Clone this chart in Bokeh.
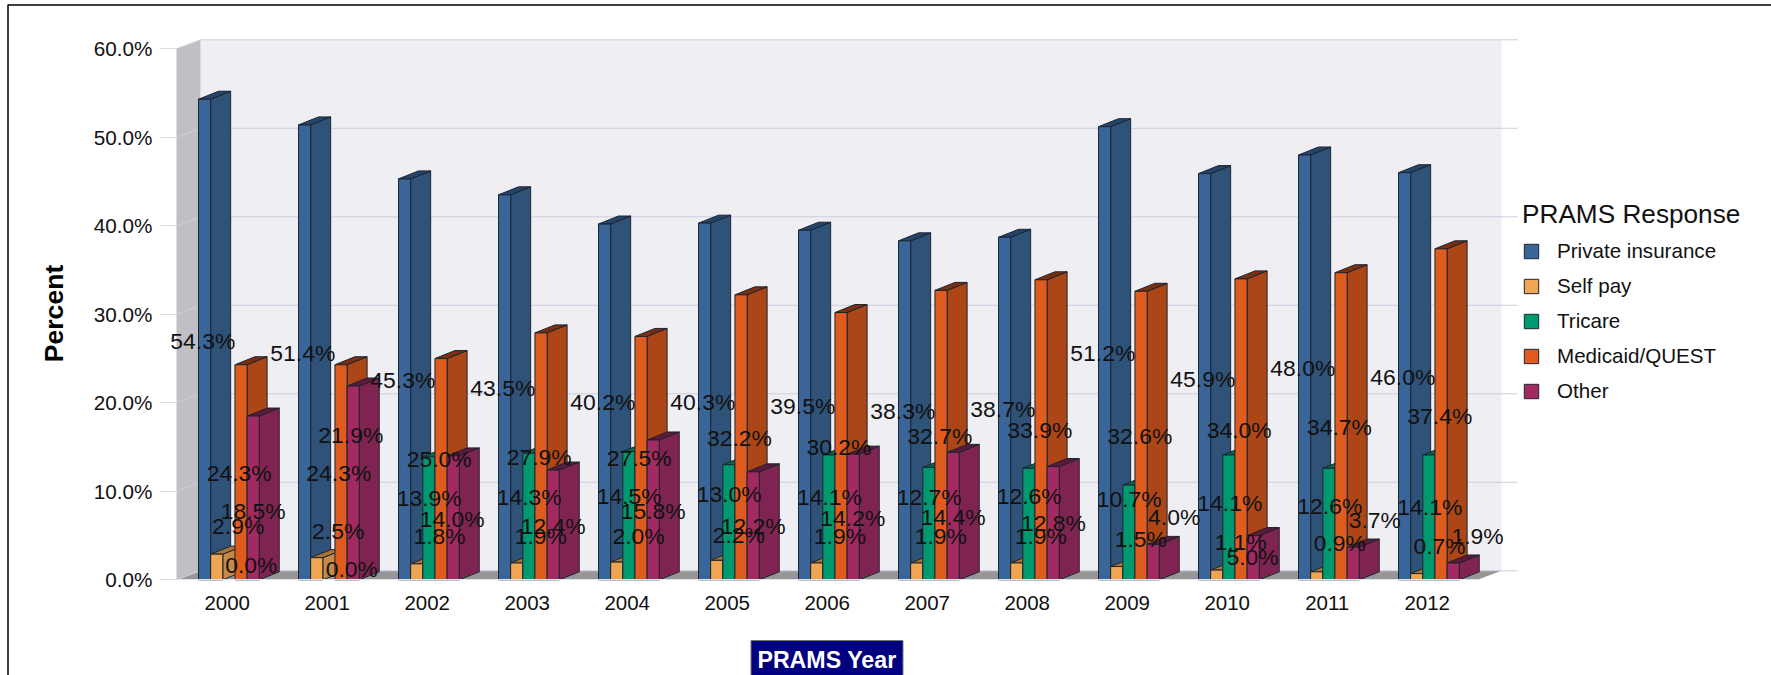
from bokeh.plotting import figure
from bokeh.models import (ColumnDataSource, Range1d, FixedTicker, PrintfTickFormatter, LabelSet, Label,
                          Legend, LegendItem)
from bokeh.core.properties import value
from bokeh.embed import file_html
from bokeh.resources import INLINE

FONT = "Liberation Sans"

years = [2000, 2001, 2002, 2003, 2004, 2005, 2006, 2007, 2008, 2009, 2010, 2011, 2012]
series_names = ["Private insurance", "Self pay", "Tricare", "Medicaid/QUEST", "Other"]
private_insurance = [54.3, 51.4, 45.3, 43.5, 40.2, 40.3, 39.5, 38.3, 38.7, 51.2, 45.9, 48.0, 46.0]
self_pay = [2.9, 2.5, 1.8, 1.9, 2.0, 2.2, 1.9, 1.9, 1.9, 1.5, 1.1, 0.9, 0.7]
tricare = [0.0, 0.0, 13.9, 14.3, 14.5, 13.0, 14.1, 12.7, 12.6, 10.7, 14.1, 12.6, 14.1]
medicaid = [24.3, 24.3, 25.0, 27.9, 27.5, 32.2, 30.2, 32.7, 33.9, 32.6, 34.0, 34.7, 37.4]
other = [18.5, 21.9, 14.0, 12.4, 15.8, 12.2, 14.2, 14.4, 12.8, 4.0, 5.0, 3.7, 1.9]
all_series = [private_insurance, self_pay, tricare, medicaid, other]
y_ticks = [0, 10, 20, 30, 40, 50, 60]

# Colours per series: front, side, top
front_colors = ["#3a6598", "#f0a553", "#00996f", "#e05b1e", "#a22a60"]
side_colors = ["#2f5279", "#c48a48", "#007a59", "#ad4616", "#7f2450"]
top_colors = ["#24456b", "#a8743a", "#006a4e", "#7a3010", "#5e1838"]

# Where the value labels sit, in page pixels (the source chart scatters them)
label_px_x = [
    [202.3 + 100 * i for i in range(13)],
    [237.7, 337.7, 439, 540.3, 638, 738.3, 839.4, 940.3, 1040.3, 1140.3, 1240, 1339.3, 1439],
    [250.8, 351.3, 428.7, 528.7, 628.7, 728.7, 829, 928.7, 1028.7, 1128.7, 1229.3, 1329.3, 1429.3],
    [238.7, 338.3, 438.7, 538.7, 638.7, 739, 838.5, 939.3, 1039.3, 1139.3, 1238.7, 1339, 1439.3],
    [252.7, 350.3, 451.7, 552.7, 652.7, 752.7, 852.3, 952.7, 1053, 1173.7, 1252, 1374.3, 1477],
]
label_px_y = [
    [340, 352.3, 379, 387.3, 401.7, 401.7, 405, 410, 408.7, 352.7, 378.3, 367.3, 376.7],
    [525, 530, 535.7, 535.7, 535, 534, 535.7, 535, 535.7, 538.3, 541, 542.7, 545.3],
    [564.3, 568.3, 497.3, 496, 495.3, 493.3, 496, 496.7, 495.7, 498.7, 502.7, 505, 506.7],
    [472.7, 472.7, 458.3, 456.7, 457.7, 437, 446, 435.3, 429.3, 435.3, 429.3, 426.7, 415.3],
    [510, 434.3, 518, 525, 510, 525.7, 517.7, 516.7, 522.7, 516.7, 556.7, 519, 535],
]

# Page geometry: the plot frame fills the canvas, axes are fixed inside it
PX_PER_YEAR = 100.0
PX_PER_PCT = 8.85
W, H = 1771, 675
BASE_PX = 579.3
YEAR0_PX = 226.7
WALL_PX = 176


def px2x(px):
    return (px - YEAR0_PX) / PX_PER_YEAR


def px2y(py):
    return (BASE_PX - py) / PX_PER_PCT


DX = 20 / PX_PER_YEAR         # depth, horizontally
DY = 8 / PX_PER_PCT           # depth, vertically
WALL_DX = 24 / PX_PER_YEAR
WALL_DY = 9 / PX_PER_PCT
BAR_W = 12.15 / PX_PER_YEAR
BAR_X0 = -28.7 / PX_PER_YEAR
n_years = len(years)
floor_right = px2x(1477)

p = figure(width=W, height=H,
           x_range=Range1d(px2x(0), px2x(W)),
           y_range=Range1d(px2y(H), px2y(0)),
           output_backend="svg", toolbar_location=None,
           min_border=0, margin=0,
           background_fill_color="white", border_fill_color="white", outline_line_color=None)
p.grid.visible = False

wall_l = px2x(WALL_PX)
# Back wall, left wall, floor
p.quad(left=[wall_l + WALL_DX], right=[floor_right + WALL_DX], bottom=[WALL_DY], top=[60 + WALL_DY],
       fill_color="#eeeef3", line_color=None)
p.patch([wall_l, wall_l + WALL_DX, wall_l + WALL_DX, wall_l],
        [0, WALL_DY, 60 + WALL_DY, 60], fill_color="#c0c0c4", line_color=None)
p.patch([wall_l, wall_l + WALL_DX, floor_right + WALL_DX, floor_right],
        [0, WALL_DY, WALL_DY, 0], fill_color="#969696", line_color=None)
# Gridlines on the walls
p.segment(x0=[wall_l + WALL_DX] * 7, x1=[px2x(1517)] * 7,
          y0=[t + WALL_DY for t in y_ticks], y1=[t + WALL_DY for t in y_ticks],
          line_color="#cdcde0", line_width=1)
p.segment(x0=[wall_l] * 7, x1=[wall_l + WALL_DX] * 7,
          y0=y_ticks, y1=[t + WALL_DY for t in y_ticks],
          line_color="#cdcde0", line_width=1)

legend_items = []
OUT = "#1c2430"
for s, (name, vals) in enumerate(zip(series_names, all_series)):
    lefts, rights, tops = [], [], []
    sx, sy, tx, ty = [], [], [], []
    for g, v in enumerate(vals):
        if v == 0:
            continue
        l = g + BAR_X0 + s * BAR_W
        r = l + BAR_W
        lefts.append(l); rights.append(r); tops.append(v)
        sx.append([r, r + DX, r + DX, r]); sy.append([0, DY, v + DY, v])
        tx.append([l, l + DX, r + DX, r]); ty.append([v, v + DY, v + DY, v])
    p.patches(sx, sy, fill_color=side_colors[s], line_color=OUT, line_width=1)
    p.patches(tx, ty, fill_color=top_colors[s], line_color=OUT, line_width=1)
    r = p.quad(left=lefts, right=rights, bottom=0, top=tops, fill_color=front_colors[s],
               line_color=OUT, line_width=1)
    legend_items.append(LegendItem(label=name, renderers=[r]))

# Value labels
for s, vals in enumerate(all_series):
    src = ColumnDataSource(dict(x=[px2x(v) for v in label_px_x[s]],
                                y=[px2y(v) for v in label_px_y[s]],
                                t=[f"{v:.1f}%" for v in vals]))
    p.add_layout(LabelSet(x="x", y="y", text="t", source=src, text_font=value(FONT),
                          text_font_size="22.9px", text_color="#111111",
                          text_align="center", text_baseline="middle"))

# Axes, fixed in data space
ya = p.yaxis[0]
ya.fixed_location = wall_l
ya.ticker = FixedTicker(ticks=y_ticks)
ya.formatter = PrintfTickFormatter(format="%.1f%%")
ya.axis_line_color = None
ya.major_tick_in = 0
ya.major_tick_out = 16
ya.major_tick_line_color = "#d8d8e6"
ya.minor_tick_line_color = None
ya.major_label_text_font = FONT
ya.major_label_text_font_size = "20.7px"
ya.major_label_text_color = "#111111"
ya.major_label_standoff = 8

xa = p.xaxis[0]
xa.fixed_location = 0
xa.ticker = FixedTicker(ticks=list(range(n_years)))
xa.major_label_overrides = {i: str(y) for i, y in enumerate(years)}
xa.bounds = (wall_l, floor_right)
xa.axis_line_color = "#e2e2ec"
xa.major_tick_line_color = None
xa.minor_tick_line_color = None
xa.major_tick_in = 0
xa.major_tick_out = 0
xa.major_label_text_font = FONT
xa.major_label_text_font_size = "20.5px"
xa.major_label_text_color = "#111111"
xa.major_label_standoff = 16

# Axis titles
p.add_layout(Label(x=px2x(53), y=px2y(313), text="Percent", angle=90, angle_units="deg",
                   text_font=FONT, text_font_style="bold", text_font_size="26.6px",
                   text_color="#000000", text_align="center", text_baseline="middle"))
p.quad(left=[px2x(750.5)], right=[px2x(902.5)], top=[px2y(640)], bottom=[px2y(690)],
       fill_color="#000080", line_color="#777777", line_width=1)
p.add_layout(Label(x=px2x(826.5), y=px2y(659), text="PRAMS Year",
                   text_font=FONT, text_font_style="bold", text_font_size="23.2px",
                   text_color="#ffffff", text_align="center", text_baseline="middle"))

# Frame round the picture
p.line(x=[px2x(1771), px2x(7.5), px2x(7.5)], y=[px2y(4.5), px2y(4.5), px2y(675)],
       line_color="#000000", line_width=1.5)

legend = Legend(items=legend_items, location=(1522, H - 403), title="PRAMS Response",
                title_text_font=FONT, title_text_font_size="26.2px", title_text_font_style="normal",
                title_text_color="#111111", title_standoff=9,
                label_text_font=FONT, label_text_font_size="20.6px", label_text_color="#111111",
                glyph_width=18, glyph_height=18, label_standoff=17, spacing=11,
                padding=0, margin=0, border_line_color=None, background_fill_alpha=0)
p.add_layout(legend)

open("out.html", "w").write(file_html(p, INLINE))
